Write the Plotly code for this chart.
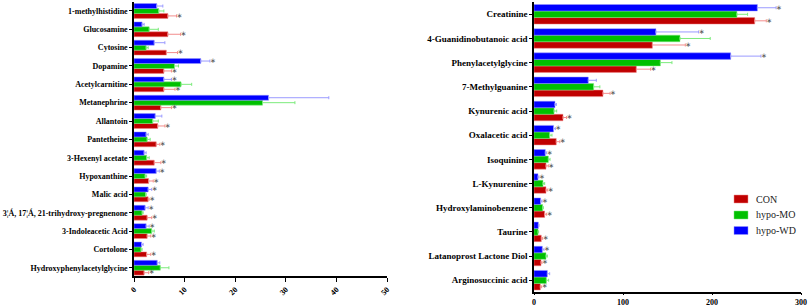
import plotly.graph_objects as go

# ---------------- data ----------------
left_cats = ["1-methylhistidine", "Glucosamine", "Cytosine", "Dopamine", "Acetylcarnitine",
             "Metanephrine", "Allantoin", "Pantetheine", "3-Hexenyl acetate", "Hypoxanthine",
             "Malic acid", "3¦Á, 17¦Á, 21-trihydroxy-pregnenone", "3-Indoleacetic Acid",
             "Cortolone", "Hydroxyphenylacetylglycine"]
left_con = [6.7, 6.7, 6.4, 5.9, 5.9, 5.3, 4.7, 4.4, 4.0, 2.9, 2.8, 2.6, 2.6, 2.5, 2.0]
left_con_err = [1.7, 2.5, 2.2, 1.5, 2.2, 2.1, 1.4, 0.7, 1.3, 0.9, 0.2, 0.9, 0.7, 0.8, 0.9]
left_mo = [4.9, 3.0, 2.4, 8.0, 9.3, 25.4, 3.7, 2.6, 2.5, 2.2, 2.3, 1.6, 3.5, 1.4, 5.2]
left_mo_err = [1.0, 1.8, 0.4, 0.8, 2.1, 6.4, 1.1, 0.6, 0.5, 0.3, 0.1, 0.2, 0.5, 0.2, 1.7]
left_wd = [4.5, 1.6, 4.0, 13.2, 5.9, 26.6, 4.2, 2.4, 2.0, 4.4, 2.8, 2.2, 2.4, 1.5, 4.6]
left_wd_err = [1.2, 0.4, 2.1, 1.8, 1.5, 11.9, 1.3, 0.4, 0.4, 0.6, 0.7, 0.6, 0.6, 0.3, 0.5]
left_sig_con = [1, 1, 1, 1, 1, 1, 1, 1, 1, 1, 1, 1, 1, 1, 1]
left_sig_wd = [0, 0, 0, 1, 1, 0, 0, 0, 0, 1, 1, 1, 1, 0, 0]

right_cats = ["Creatinine", "4-Guanidinobutanoic acid", "Phenylacetylglycine", "7-Methylguanine",
              "Kynurenic acid", "Oxalacetic acid", "Isoquinine", "L-Kynurenine",
              "Hydroxylaminobenzene", "Taurine", "Latanoprost Lactone Diol", "Arginosuccinic acid"]
right_con = [248, 133, 115, 77.5, 32.6, 25.0, 13.5, 13.5, 12.0, 8.2, 7.9, 7.1]
right_con_err = [13, 37, 16, 8, 4, 4, 2.6, 1.9, 2.2, 1.5, 1.1, 1.5]
right_mo = [228, 164, 142, 67, 22.5, 17.6, 16.1, 10.1, 9.7, 4.5, 13.5, 13.9]
right_mo_err = [12, 34, 13, 7, 3, 2.6, 1.9, 1.9, 0.8, 0.7, 1.5, 2.6]
right_wd = [251, 137, 221, 61, 23.6, 22.0, 12.7, 4.5, 7.5, 4.9, 9.4, 15.0]
right_wd_err = [21, 48, 34, 9, 1.5, 2.0, 1.5, 1.1, 1.5, 0.7, 1.8, 2.6]
right_sig_con = [1, 1, 1, 1, 1, 1, 1, 1, 1, 1, 1, 1]
right_sig_wd = [1, 1, 1, 0, 0, 1, 1, 1, 1, 0, 1, 0]

series_names = ["CON", "hypo-MO", "hypo-WD"]
left_ticks = [0, 10, 20, 30, 40, 50]
right_ticks = [0, 100, 200, 300]

# ---------------- style ----------------
bar_colors = ["#C00000", "#00C000", "#0000FF"]
err_colors = ["#F28C8C", "#7CEB7C", "#9A9AFF"]
BARGAP = 0.19
SERIF = "Liberation Serif"
W, H = 809, 306

fig = go.Figure()


def add_panel(cats, vals, errs, sigs, xa, ya):
    n = len(cats)
    pos = [n - 1 - i for i in range(n)]
    for k in range(3):
        fig.add_trace(go.Bar(
            y=pos, x=vals[k], orientation="h", name=series_names[k],
            marker=dict(color=bar_colors[k], line=dict(color=err_colors[k], width=0.5)),
            error_x=dict(type="data", symmetric=False, array=errs[k], arrayminus=[0] * n,
                         color=err_colors[k], thickness=1, width=1.5),
            xaxis=xa, yaxis=ya, showlegend=False))
    w = (1 - BARGAP) / 3
    for k, off in ((0, -w), (2, w)):
        xs, ys = [], []
        for i in range(n):
            if sigs[k][i]:
                xs.append(vals[k][i] + errs[k][i])
                ys.append(pos[i] + off)
        fig.add_trace(go.Scatter(
            x=xs, y=ys, mode="text", text=["∗"] * len(xs), textposition="middle right",
            textfont=dict(family="DejaVu Sans", size=7, color="#555555"),
            xaxis=xa, yaxis=ya, showlegend=False, hoverinfo="skip"))
    return pos


lpos = add_panel(left_cats, [left_con, left_mo, left_wd], [left_con_err, left_mo_err, left_wd_err],
                 [left_sig_con, None, left_sig_wd], "x", "y")
rpos = add_panel(right_cats, [right_con, right_mo, right_wd], [right_con_err, right_mo_err, right_wd_err],
                 [right_sig_con, None, right_sig_wd], "x2", "y2")

tf_left = dict(family=SERIF, size=8, color="black", weight="bold")
tf_right = dict(family=SERIF, size=9, color="black", weight="bold")
axis_common = dict(showgrid=False, zeroline=False, showline=True, linecolor="black", linewidth=1.5,
                   ticks="outside", tickcolor="black", tickwidth=1, automargin=False)

# manual legend (compact spacing as in the reference)
legend_shapes, legend_ann = [], []
for k, (name, yc) in enumerate(zip(series_names, [199, 215, 230.5])):
    legend_shapes.append(dict(type="rect", xref="paper", yref="paper",
                              x0=734 / W, x1=748 / W, y0=(H - yc - 4) / H, y1=(H - yc + 4) / H,
                              fillcolor=bar_colors[k], line=dict(color=err_colors[k], width=0.5)))
    legend_ann.append(dict(xref="paper", yref="paper", x=754 / W, y=(H - yc) / H,
                           xanchor="left", yanchor="middle", text=name, showarrow=False,
                           font=dict(family=SERIF, size=10, color="#222222")))

fig.update_layout(
    width=W, height=H, margin=dict(l=0, r=0, t=0, b=0),
    paper_bgcolor="white", plot_bgcolor="white",
    barmode="group", bargap=BARGAP, bargroupgap=0,
    xaxis=dict(domain=[134 / W, 387 / W], range=[0, 50], tickvals=left_ticks,
               tickangle=-45, ticklen=4, anchor="y", tickfont=tf_left, **axis_common),
    yaxis=dict(domain=[30 / H, 304.2 / H], range=[-0.45, 14.5], tickvals=lpos,
               ticktext=left_cats, ticklen=3, anchor="x", tickfont=tf_left, **axis_common),
    xaxis2=dict(domain=[534 / W, 801 / W], range=[0, 300], tickvals=right_ticks,
                tickangle=0, ticklen=2, anchor="y2", tickfont=tf_left, **axis_common),
    yaxis2=dict(domain=[14.5 / H, 303.8 / H], range=[-0.466, 11.5], tickvals=rpos,
                ticktext=right_cats, ticklen=3, anchor="x2", tickfont=tf_right, **axis_common),
    shapes=legend_shapes, annotations=legend_ann,
    showlegend=False,
)

fig.write_html("out.html", config={"displayModeBar": False},
               post_script="document.body.style.margin='0';document.body.style.overflow='hidden';")
